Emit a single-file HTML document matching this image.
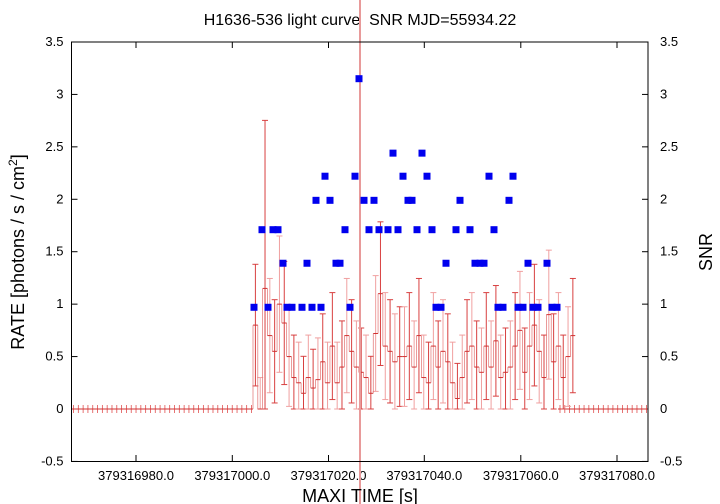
<!DOCTYPE html>
<html><head><meta charset="utf-8"><style>
body{margin:0;background:#fff;}
svg{display:block;font-family:"Liberation Sans",sans-serif;}
</style></head><body>
<svg id="s" width="720" height="504" xmlns="http://www.w3.org/2000/svg">
<rect width="720" height="504" fill="#fff"/>
<text x="360" y="25" font-size="16" text-anchor="middle" style="white-space:pre">H1636-536 light curve  SNR MJD=55934.22</text>
<g id="ax" font-size="13"></g>
<g id="dat"></g>
<rect x="71.5" y="42" width="576.5" height="419.5" fill="none" stroke="#000" stroke-width="1"/>
<text x="360" y="502" font-size="18" text-anchor="middle">MAXI TIME [s]</text>
<text transform="translate(24,252) rotate(-90)" font-size="18" text-anchor="middle">RATE [photons / s / cm<tspan dy="-7" font-size="12">2</tspan><tspan dy="7">]</tspan></text>
<text transform="translate(712,252) rotate(-90)" font-size="18" text-anchor="middle">SNR</text>
</svg>
<script>
const NS="http://www.w3.org/2000/svg";
function el(p,t,a,txt){const e=document.createElementNS(NS,t);for(const k in a)e.setAttribute(k,a[k]);if(txt!==undefined)e.textContent=txt;p.appendChild(e);return e;}
const ax=document.getElementById('ax'),d=document.getElementById('dat');
const Y=v=>409-v*104.86;
const L=71.5,R=648;
for(let i=0;i<=8;i++){const v=-0.5+i*0.5,y=Y(v);const lab=(v===0?"0":v.toFixed(1).replace(/\.0$/,""));
el(ax,'line',{x1:L,x2:L+6,y1:y,y2:y,stroke:'#000'});el(ax,'line',{x1:R-6,x2:R,y1:y,y2:y,stroke:'#000'});
el(ax,'text',{x:L-8,y:y+4,'text-anchor':'end'},lab);el(ax,'text',{x:R+12,y:y+4,'text-anchor':'start'},lab);}
const tx=[136,232.3,328.5,424.3,520.8,617];
const labs=["379316980.0","379317000.0","379317020.0","379317040.0","379317060.0","379317080.0"];
tx.forEach((x,i)=>{el(ax,'line',{x1:x,x2:x,y1:461.5,y2:455,stroke:'#000'});el(ax,'line',{x1:x,x2:x,y1:42,y2:48,stroke:'#000'});el(ax,'text',{x:x,y:480,'text-anchor':'middle'},labs[i]);});
const s=4.81;
for(let x=L+2;x<252;x+=s){el(d,'line',{x1:x,x2:x,y1:405,y2:413,stroke:'#e05050','stroke-width':0.8});}
for(let x=560;x<R;x+=s){el(d,'line',{x1:x,x2:x,y1:405,y2:413,stroke:'#e05050','stroke-width':0.8});}
el(d,'line',{x1:L,x2:253,y1:409,y2:409,stroke:'#d03030'});el(d,'line',{x1:558,x2:R,y1:409,y2:409,stroke:'#d03030'});
const r=[0.8,0,1.15,0.7,0.55,1,0.82,0.5,0.3,0.25,0.15,0.3,0.2,0.28,0.45,0.25,0.6,0.25,0.4,0.7,0.55,0.4,0.35,0.3,0.15,0.72,1.1,0.6,0.55,0.45,0.5,0.5,0.6,0.4,0.7,0.3,0.25,0.6,0.4,0.55,0.45,0.25,0.1,0.3,0.55,0.6,0.4,0.35,0.6,0.4,0.65,0.3,0.35,0.4,0.6,0.75,0.35,0.6,0.8,0.55,0.3,0.9,0.45,0.6,0.3,0.5,0.7];
r.forEach((v,i)=>{const x=253+i*s+2.4,e=0.3+0.35*v+(i==2?0.9:0);const c=i%2?'#f0a0a0':'#d84040';
el(d,'line',{x1:x,x2:x,y1:Y(Math.max(v-e,0)),y2:Y(v+e),stroke:c,'stroke-width':1});
[Math.max(v-e,0),v+e].forEach(w=>el(d,'line',{x1:x-3,x2:x+3,y1:Y(w),y2:Y(w),stroke:c}));
el(d,'line',{x1:x-2.4,x2:x+2.4,y1:Y(v),y2:Y(v),stroke:'#d03030'});
el(d,'line',{x1:x-2.4,x2:x-2.4,y1:Y(v),y2:Y(i?r[i-1]:0),stroke:'#e07070','stroke-width':0.7});});
el(d,'line',{x1:360,x2:360,y1:0,y2:504,stroke:'#e89a9a','stroke-width':2});
const b=[[254,0.97],[262,1.71],[268,0.97],[273,1.71],[278,1.71],[283,1.39],[287,0.97],[292,0.97],[302,0.97],[307,1.39],[312,0.97],[316,1.99],[321,0.97],[325,2.22],[330,1.99],[336,1.39],[340,1.39],[345,1.71],[350,0.97],[355,2.22],[359,3.15],[364,1.99],[369,1.71],[374,1.99],[379,1.71],[388,1.71],[393,2.44],[398,1.71],[403,2.22],[408,1.99],[412,1.99],[417,1.71],[422,2.44],[427,2.22],[432,1.71],[436,0.97],[441,0.97],[446,1.39],[456,1.71],[460,1.99],[470,1.71],[475,1.39],[480,1.39],[484,1.39],[489,2.22],[494,1.71],[498,0.97],[503,0.97],[509,1.99],[513,2.22],[518,0.97],[523,0.97],[528,1.39],[533,0.97],[538,0.97],[547,1.39],[552,0.97],[557,0.97]];
b.forEach(([x,v])=>el(d,'rect',{x:x-3.5,y:Y(v)-3.5,width:7,height:7,fill:'#0000ee'}));
</script>
</body></html>
